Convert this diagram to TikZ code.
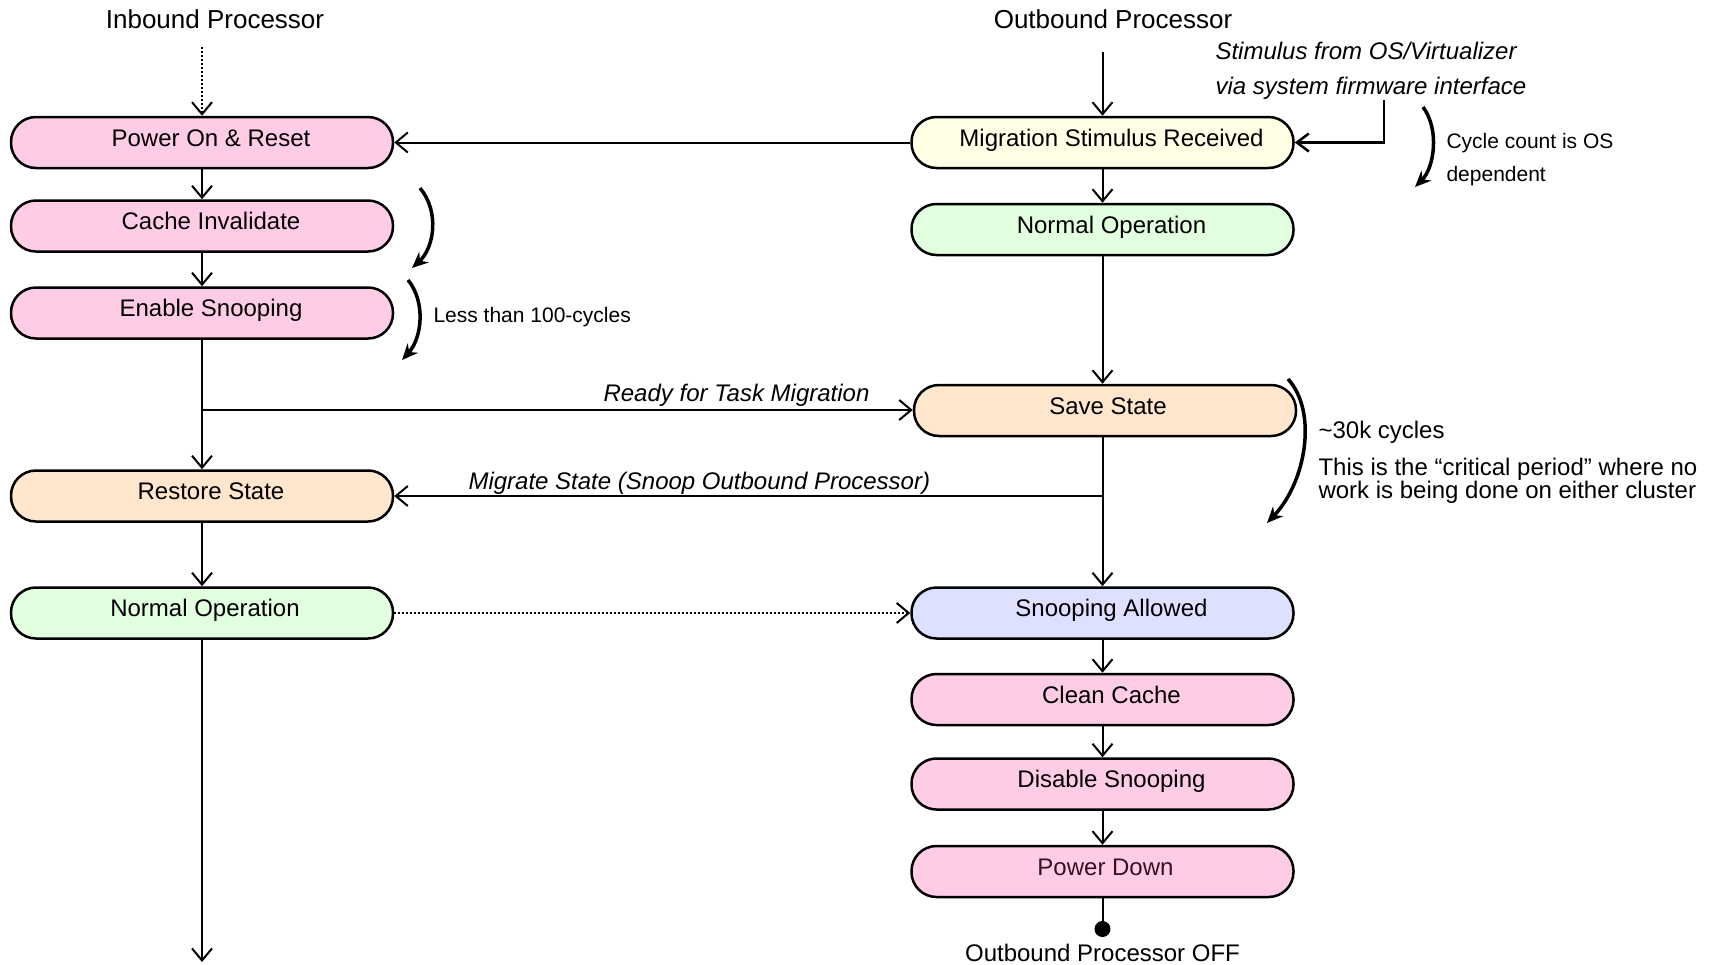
\documentclass[tikz,border=0pt]{standalone}
\usepackage{fontspec}
\setmainfont{Liberation Sans}
\usetikzlibrary{arrows.meta}
\definecolor{pinkfill}{HTML}{FFCCE5}
\definecolor{yellowfill}{HTML}{FFFFE6}
\definecolor{greenfill}{HTML}{E2FFE0}
\definecolor{orangefill}{HTML}{FFE6CC}
\definecolor{bluefill}{HTML}{DEE0FF}
\definecolor{darktext}{HTML}{3A1028}
\begin{document}
\begin{tikzpicture}[x=1pt,y=-1pt,
  stagebase/.style={draw=black, line width=2.5pt, rounded corners=25pt,
    minimum width=382pt, minimum height=51pt, inner sep=0pt,
    text height=17pt, text depth=10pt, font=\fontsize{24}{28}\selectfont},
  stage/.style={stagebase, execute at begin node=\hspace*{18pt}},
  stagenarrow/.style={stagebase, execute at begin node=\hspace*{6pt}},
  flow/.style={line width=2pt, -{Straight Barb[length=12pt,width=20pt,line width=2pt]}},
  timing/.style={line width=3.5pt, -{Stealth[length=16pt,width=14pt]}},
  header/.style={anchor=base, font=\fontsize{26}{30}\selectfont},
  remark/.style={anchor=base west, font=\fontsize{21}{25}\selectfont},
  msg/.style={font=\fontsize{24}{28}\selectfont\itshape},
]
\useasboundingbox (0,0) rectangle (1710,964);

% column headers
\node[header] (inb) at (215,28) {Inbound Processor};
\node[header] (outb) at (1113,28) {Outbound Processor};

% inbound processor stages
\node[stage, fill=pinkfill]   (pwr)     at (202,142.5) {Power On \& Reset};
\node[stage, fill=pinkfill]   (cache)   at (202,226)   {Cache Invalidate};
\node[stage, fill=pinkfill]   (enable)  at (202,313)   {Enable Snooping};
\node[stage, fill=orangefill] (restore) at (202,496)   {Restore State};
\node[stagenarrow, fill=greenfill]  (normL)   at (202,613)   {Normal Operation};

% outbound processor stages
\node[stage, fill=yellowfill] (migr)    at (1102.5,142.5) {Migration Stimulus Received};
\node[stage, fill=greenfill]  (normR)   at (1102.5,229.5) {Normal Operation};
\node[stagenarrow, fill=orangefill] (save)    at (1105,410.5)   {Save State};
\node[stage, fill=bluefill]   (snoop)   at (1102.5,613)   {Snooping Allowed};
\node[stage, fill=pinkfill]   (clean)   at (1102.5,699.5) {Clean Cache};
\node[stage, fill=pinkfill]   (disable) at (1102.5,784)   {Disable Snooping};
\node[stagenarrow, fill=pinkfill, text=darktext] (pdown) at (1102.5,871.5) {Power Down};

% free ends of connectors
\coordinate (inTop)  at (202,47);
\coordinate (outTop) at (1102.5,52);
\coordinate (inEnd)  at (202,962);
\coordinate (ready)  at (202,410);
\coordinate (migrate) at (1102.5,496);
\coordinate (stim)   at (1384,100);
\coordinate (corner) at (1384,142.5);

% inbound flow
\draw[flow, dotted] (inTop) -- (pwr.north);
\draw[flow] (pwr) -- (cache);
\draw[flow] (cache) -- (enable);
\draw[flow] (enable) -- (restore);
\draw[flow] (restore) -- (normL);
\draw[flow] (normL) -- (inEnd);

% outbound flow
\draw[flow] (outTop) -- (migr.north);
\draw[flow] (migr) -- (normR);
\draw[flow] (normR.south) -- (normR.south |- save.north);
\draw[flow] (save.south -| snoop.north) -- (snoop.north);
\draw[flow] (snoop) -- (clean);
\draw[flow] (clean) -- (disable);
\draw[flow] (disable) -- (pdown);

% cross-cluster messages
\draw[flow] (migr.west) -- (pwr.east);
\draw[flow] (ready) -- (ready -| save.west);
\node[msg, anchor=base east] (readyLbl) at (873,401) {Ready for Task Migration};
\draw[flow] (migrate) -- (migrate -| restore.east);
\node[msg, anchor=base west] (migLbl) at (465,489) {Migrate State (Snoop Outbound Processor)};
\draw[flow, dotted] (normL.east) -- (snoop.west);

% stimulus from the OS
\node[msg, anchor=base west] (stim1) at (1212,59) {Stimulus from OS/Virtualizer};
\node[msg, anchor=base west] (stim2) at (1212,94) {via system firmware interface};
\draw[line width=2.5pt, -{Straight Barb[length=12pt,width=18pt,line width=2.5pt]}]
  (stim) -- (corner) -- (migr.east);

% outbound processor switched off
\draw[line width=2pt] (pdown.south) -- (1102.5,929);
\fill (1102.5,929) circle (8pt);
\node[header, font=\fontsize{24}{28}\selectfont] (off) at (1102.5,961) {Outbound Processor OFF};

% timing annotations
\coordinate (t1a) at (420,188);  \coordinate (t1b) at (412,268);
\coordinate (t2a) at (408,280);  \coordinate (t2b) at (402,360);
\coordinate (t3a) at (1423,107); \coordinate (t3b) at (1415,187);
\coordinate (t4a) at (1288,379); \coordinate (t4b) at (1267,523);
\draw[timing] (t1a) .. controls (440,212) and (434,248) .. (t1b);
\draw[timing] (t2a) .. controls (426,302) and (422,338) .. (t2b);
\draw[timing] (t3a) .. controls (1440,130) and (1434,168) .. (t3b);
\draw[timing] (t4a) .. controls (1318,412) and (1306,482) .. (t4b);

\node[remark] (lt100) at (430,322) {Less than 100-cycles};
\node[remark] (cyc1) at (1443,148) {Cycle count is OS};
\node[remark] (cyc2) at (1443,181) {dependent};
\node[remark, font=\fontsize{24}{28}\selectfont] (k30) at (1315,438) {\char"007E 30k cycles};
\node[remark, font=\fontsize{24}{28}\selectfont] (crit1) at (1315,475) {This is the “critical period” where no};
\node[remark, font=\fontsize{24}{28}\selectfont] (crit2) at (1315,498) {work is being done on either cluster};
\end{tikzpicture}
\end{document}
